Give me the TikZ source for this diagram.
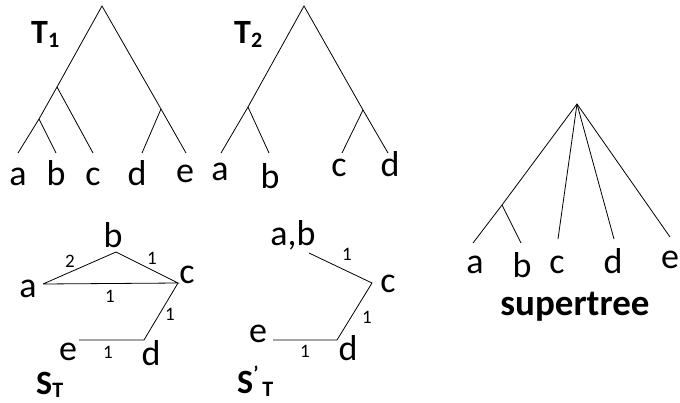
\documentclass[tikz,border=0pt]{standalone}
\usepackage{fontspec}
\setmainfont{Carlito}
\usetikzlibrary{positioning}

\tikzset{
  branch/.style={line width=0.8pt},
  leaf/.style={font=\fontsize{36}{38}\selectfont, inner sep=0pt, anchor=base},
  wt/.style={font=\fontsize{19}{20}\selectfont, inner sep=0pt, anchor=base},
  title/.style={font=\bfseries\fontsize{34}{36}\selectfont, inner sep=0pt, anchor=base west}
}
\newcommand{\subidx}[1]{{\fontsize{22}{22}\selectfont\raisebox{-4pt}{#1}}}
\newcommand{\subidxlow}[1]{{\fontsize{22}{22}\selectfont\raisebox{-3pt}{#1}}}

\begin{document}
\begin{tikzpicture}[x=1pt,y=-1pt]
  \useasboundingbox (0,0) rectangle (680,402);

  % T1
  \coordinate (t1r) at (102,6);
  \coordinate (t1abc) at (57,87);
  \coordinate (t1ab) at (39,119);
  \coordinate (t1de) at (161,109);
  \coordinate (t1a) at (18,153);
  \coordinate (t1b) at (56,153);
  \coordinate (t1c) at (93,153);
  \coordinate (t1d) at (142,153);
  \coordinate (t1e) at (186,153);
  \draw[branch] (t1a) -- (t1ab) -- (t1abc) -- (t1r) -- (t1de) -- (t1e);
  \draw[branch] (t1ab) -- (t1b);
  \draw[branch] (t1abc) -- (t1c);
  \draw[branch] (t1de) -- (t1d);
  \node[leaf] (la1) at (18,185) {a};
  \node[leaf] (lb1) at (56,185) {b};
  \node[leaf] (lc1) at (93,185) {c};
  \node[leaf] (ld1) at (137,185) {d};
  \node[leaf] (le1) at (185,182) {e};
  \node[title] (T1) at (31,43) {T\subidx{1}};

  % T2
  \coordinate (t2r) at (304,6);
  \coordinate (t2ab) at (248,107);
  \coordinate (t2cd) at (363,110);
  \coordinate (t2a) at (221,153);
  \coordinate (t2b) at (269,153);
  \coordinate (t2c) at (342,153);
  \coordinate (t2d) at (388,153);
  \draw[branch] (t2a) -- (t2ab) -- (t2r) -- (t2cd) -- (t2d);
  \draw[branch] (t2ab) -- (t2b);
  \draw[branch] (t2cd) -- (t2c);
  \node[leaf] (la2) at (220,180) {a};
  \node[leaf] (lb2) at (270,188) {b};
  \node[leaf] (lc2) at (339,176) {c};
  \node[leaf] (ld2) at (390,176) {d};
  \node[title] (T2) at (234,43) {T\subidx{2}};

  % S_T
  \coordinate (sa) at (43,284);
  \coordinate (sb) at (116,252);
  \coordinate (sc) at (178,283);
  \coordinate (sd) at (144,340);
  \coordinate (se) at (79,340);
  \draw[branch] (sa) -- (sb) -- (sc) -- (sa);
  \draw[branch] (sc) -- (sd) -- (se);
  \node[leaf] (nsa) at (28,297) {a};
  \node[leaf] (nsb) at (113,247) {b};
  \node[leaf] (nsc) at (187,283) {c};
  \node[leaf] (nsd) at (151,365) {d};
  \node[leaf] (nse) at (68,360) {e};
  \node[wt] (wab) at (70,267) {2};
  \node[wt] (wbc) at (152,264) {1};
  \node[wt] (wac) at (110,302) {1};
  \node[wt] (wcd) at (170,320) {1};
  \node[wt] (wde) at (108,358) {1};
  \node[title] (ST) at (36,394) {S\subidxlow{T}};

  % S'_T
  \coordinate (pab) at (309,253);
  \coordinate (pc) at (372,283);
  \coordinate (pd) at (337,340);
  \coordinate (pe) at (273,340);
  \draw[branch] (pab) -- (pc) -- (pd) -- (pe);
  \node[leaf] (npab) at (293,245) {a,b};
  \node[leaf] (npc) at (388,292) {c};
  \node[leaf] (npd) at (348,360) {d};
  \node[leaf] (npe) at (258,342) {e};
  \node[wt] (wpc) at (347,260) {1};
  \node[wt] (wpd) at (367,323) {1};
  \node[wt] (wpe) at (305,357) {1};
  \node[title] (SpT) at (237,393)
    {S{\fontsize{20}{20}\selectfont\raisebox{13pt}{\textquoteright}}\hspace{4pt}\subidxlow{T}};

  % supertree
  \coordinate (sr) at (577,104);
  \coordinate (sab) at (502,205);
  \coordinate (sla) at (473,243);
  \coordinate (slb) at (521,243);
  \coordinate (slc) at (558,239);
  \coordinate (sld) at (614,239);
  \coordinate (sle) at (670,237);
  \draw[branch] (sla) -- (sab) -- (sr) -- (sle);
  \draw[branch] (sab) -- (slb);
  \draw[branch] (sr) -- (slc);
  \draw[branch] (sr) -- (sld);
  \node[leaf] (nla) at (475,273) {a};
  \node[leaf] (nlb) at (522,277) {b};
  \node[leaf] (nlc) at (557,273) {c};
  \node[leaf] (nld) at (613,273) {d};
  \node[leaf] (nle) at (670,268) {e};
  \node[font=\bfseries\fontsize{37}{38}\selectfont, inner sep=0pt, anchor=base] (sup) at (575,315) {supertree};
\end{tikzpicture}
\end{document}
